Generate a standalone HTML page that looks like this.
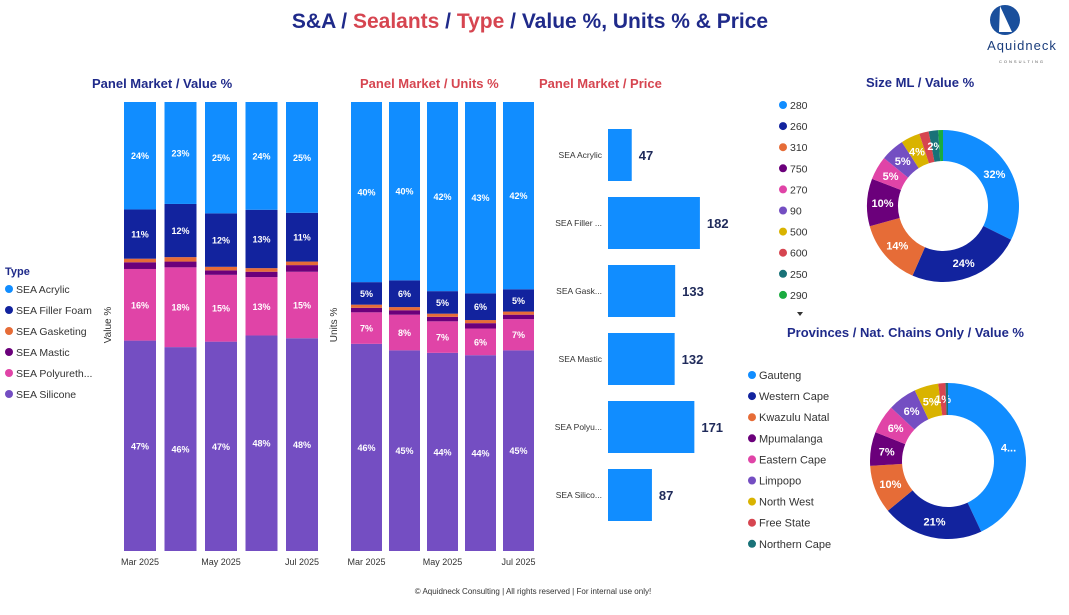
<!DOCTYPE html>
<html><head><meta charset="utf-8"><style>
body{margin:0;background:#fff;font-family:"Liberation Sans",sans-serif;}
svg text{font-family:"Liberation Sans",sans-serif;}
</style></head><body>
<svg id="s" width="1069" height="610" xmlns="http://www.w3.org/2000/svg">
<text x="530" y="28" text-anchor="middle" font-size="21" font-weight="bold" fill="#1f2a8a">S&amp;A / <tspan fill="#d64550">Sealants</tspan> / <tspan fill="#d64550">Type</tspan> / Value %, Units % &amp; Price</text>
<g>
<circle cx="1005" cy="20" r="15" fill="#1a4f9c"/>
<path d="M1000 6 L1012 32 L999 32 Z" fill="#fff"/>
<text x="1022" y="50" text-anchor="middle" font-size="13" fill="#1a3d7c" letter-spacing="1">Aquidneck</text>
<text x="1022" y="63" text-anchor="middle" font-size="4" fill="#555" letter-spacing="2">CONSULTING</text>
</g>
<text x="92" y="88" font-size="13" font-weight="bold" fill="#1f2a8a">Panel Market / Value %</text>
<text x="360" y="88" font-size="13" font-weight="bold" fill="#d64550">Panel Market / Units %</text>
<text x="539" y="88" font-size="13" font-weight="bold" fill="#d64550">Panel Market / Price</text>
<text x="866" y="87" font-size="13" font-weight="bold" fill="#1f2a8a">Size ML / Value %</text>
<text x="787" y="337" font-size="13" font-weight="bold" fill="#1f2a8a">Provinces / Nat. Chains Only / Value %</text>
<text transform="translate(111,325) rotate(-90)" text-anchor="middle" font-size="10" fill="#333">Value %</text>
<text transform="translate(337,325) rotate(-90)" text-anchor="middle" font-size="10" fill="#333">Units %</text>
<text x="5" y="275" font-size="11" font-weight="bold" fill="#1f2a8a">Type</text>
<text x="533" y="594" text-anchor="middle" font-size="8" fill="#333">© Aquidneck Consulting  | All rights reserved | For internal use only!</text>
</svg>
<script>
const types=["SEA Acrylic","SEA Filler Foam","SEA Gasketing","SEA Mastic","SEA Polyureth...","SEA Silicone"];
const typeColors=["#118DFF","#12239E","#E66C37","#6B007B","#E044A7","#744EC2"];
const months=["Mar 2025","Apr 2025","May 2025","Jun 2025","Jul 2025"];
const tickLabels=["Mar 2025","May 2025","Jul 2025"];
const valAcr=[24,23,25,24,25], valFil=[11,12,12,13,11], valGas=[0.8,1,0.8,0.8,0.8], valMas=[1.5,1.3,1,1.2,1.5], valPol=[16,18,15,13,15], valSil=[47,46,47,48,48];
const unAcr=[40,40,42,43,42], unFil=[5,6,5,6,5], unGas=[0.7,0.7,0.7,0.7,0.7], unMas=[1,1,1,1.2,1], unPol=[7,8,7,6,7], unSil=[46,45,44,44,45];
const priceCats=["SEA Acrylic","SEA Filler ...","SEA Gask...","SEA Mastic","SEA Polyu...","SEA Silico..."];
const priceVals=[47,182,133,132,171,87];
const sizeCats=["280","260","310","750","270","90","500","600","250","290"];
const sizeVals=[32,24,14,10,5,5,4,2,2,1];
const sizeColors=["#118DFF","#12239E","#E66C37","#6B007B","#E044A7","#744EC2","#D9B300","#D64550","#197278","#1AAB40"];
const provCats=["Gauteng","Western Cape","Kwazulu Natal","Mpumalanga","Eastern Cape","Limpopo","North West","Free State","Northern Cape"];
const provVals=[43,21,10,7,6,6,5,1.5,0.5];
const provLabels=["4...","21%","10%","7%","6%","6%","5%","1%",""];
const sizeLabels=["32%","24%","14%","10%","5%","5%","4%","","2%",""];
const NS="http://www.w3.org/2000/svg", S=document.getElementById('s');
function el(t,a,p){const e=document.createElementNS(NS,t);for(const k in a)e.setAttribute(k,a[k]);(p||S).appendChild(e);return e;}
function txt(x,y,s,a,p){const e=el('text',Object.assign({x:x,y:y},a),p);e.textContent=s;return e;}

function stacked(x0,step,w,series,name,xlab){
  const top=102,bot=551,H=bot-top;
  const g=el('g',{});
  
  
  months.forEach((m,i)=>{
    const vals=[series[5][i],series[4][i],series[3][i],series[2][i],series[1][i],series[0][i]];
    const tot=vals.reduce((a,b)=>a+b,0);
    let y=bot;
    vals.forEach((v,j)=>{
      const h=v/tot*H; y-=h;
      const ti=5-j;
      const r=el('rect',{x:x0+i*step,y:y,width:w,height:h,fill:typeColors[ti]},g);
      
      
      if(v>=3){const t=txt(x0+i*step+w/2,y+h/2+3.5,Math.round(v)+'%',{'text-anchor':'middle','font-size':9,'font-weight':'bold',fill:'#fff'},g);
        
        }
    });
  });
  tickLabels.forEach(l=>{const i=months.indexOf(l);
    const t=txt(x0+i*step+w/2,565,l,{'text-anchor':'middle','font-size':9,fill:'#333'},g);
    
    });
}
stacked(124,40.5,32,[valAcr,valFil,valGas,valMas,valPol,valSil],'value-chart');
stacked(351,38,31,[unAcr,unFil,unGas,unMas,unPol,unSil],'units-chart');

// price bars
const pg=el('g',{});


const px=v=>v*0.505;
priceCats.forEach((c,i)=>{
  const cy=155+i*68;
  const r=el('rect',{x:608,y:cy-26,width:px(priceVals[i]),height:52,fill:'#118DFF'},pg);
  
  
  const t=txt(602,cy+3,c,{'text-anchor':'end','font-size':8.5,fill:'#333'},pg);
  
  
  const v=txt(608+px(priceVals[i])+7,cy+5,priceVals[i],{'font-size':13,'font-weight':'bold',fill:'#1f2a5a'},pg);
  
  
});

// legends
function legend(x,y0,step,cats,cols,fs,name){
  const g=el('g',{});
  
  
  cats.forEach((c,i)=>{
    const it=el('g',{},g);
    
    
    el('circle',{cx:x+4,cy:y0+i*step,r:4,fill:cols[i]},it);
    txt(x+11,y0+i*step+4,c,{'font-size':fs,fill:'#333'},it);
  });
  return g;
}
legend(5,289,21,types,typeColors,10.5,'type-legend');
legend(779,105,21.1,sizeCats,sizeColors,10.5,'size-legend');
el('path',{d:'M797 312 l6 0 l-3 4 z',fill:'#333'});
legend(748,375,21.1,provCats,sizeColors,11,'provinces-legend');

function donut(cx,cy,R,r,vals,cols,labels,name){
  const g=el('g',{});
  
  
  const tot=vals.reduce((a,b)=>a+b,0);let a0=-Math.PI/2;
  vals.forEach((v,i)=>{
    const a1=a0+v/tot*2*Math.PI,lg=(a1-a0)>Math.PI?1:0;
    const P=(rr,a)=>[cx+rr*Math.cos(a),cy+rr*Math.sin(a)];
    const [x1,y1]=P(R,a0),[x2,y2]=P(R,a1),[x3,y3]=P(r,a1),[x4,y4]=P(r,a0);
    const p=el('path',{d:`M${x1} ${y1}A${R} ${R} 0 ${lg} 1 ${x2} ${y2}L${x3} ${y3}A${r} ${r} 0 ${lg} 0 ${x4} ${y4}Z`,fill:cols[i]},g);
    
    
    if(labels[i]){const am=(a0+a1)/2,[lx,ly]=P((R+r)/2,am);
      const t=txt(lx,ly+4,labels[i],{'text-anchor':'middle','font-size':11,'font-weight':'bold',fill:'#fff'},g);
      
      }
    a0=a1;
  });
}
donut(943,206,76,45,sizeVals,sizeColors,sizeLabels,'size-donut');
donut(948,461,78,46,provVals,sizeColors,provLabels,'provinces-donut');
</script>
</body></html>
